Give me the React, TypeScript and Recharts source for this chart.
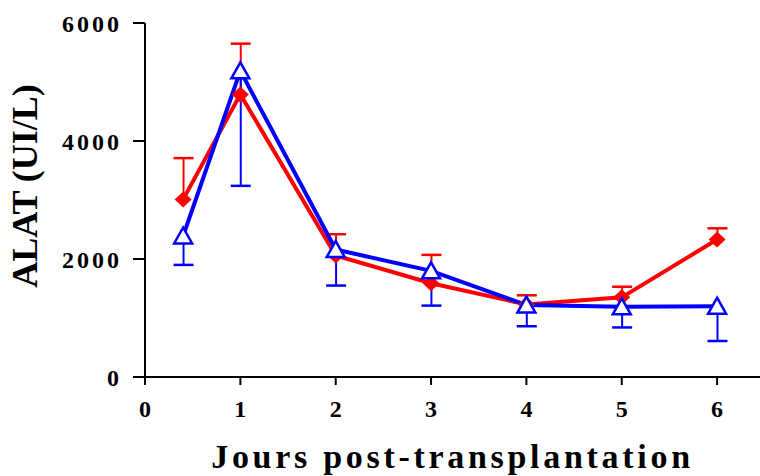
import React from 'react';
import { ComposedChart, Line, Bar, XAxis, YAxis, Label } from 'recharts';

const days = [0.4, 1, 2, 3, 4, 5, 6];
const redMean = [3010, 4790, 2060, 1590, 1230, 1350, 2330];
const redUpper = [3710, 5650, 2420, 2070, 1385, 1530, 2520];
const blueMean = [2390, 5190, 2160, 1800, 1220, 1190, 1200];
const blueLower = [1900, 3240, 1550, 1210, 860, 840, 610];
const xTicks = [0, 1, 2, 3, 4, 5, 6];
const yTicks = [0, 2000, 4000, 6000];

const RED = '#FF0000';
const BLUE = '#0000FF';
const FONT = '"Liberation Serif", "Times New Roman", serif';

const chartData = days.map((day, i) => ({
  day,
  red: redMean[i],
  blue: blueMean[i],
  redErr: [redMean[i], redUpper[i]],
  blueErr: [blueLower[i], blueMean[i]],
}));

const Diamond = ({ cx, cy }: any) => {
  if (cx == null || cy == null) return null;
  return (
    <polygon
      points={`${cx},${cy - 8} ${cx + 8.5},${cy} ${cx},${cy + 8} ${cx - 8.5},${cy}`}
      fill={RED}
    />
  );
};

const Triangle = ({ cx, cy }: any) => {
  if (cx == null || cy == null) return null;
  return (
    <polygon
      points={`${cx},${cy - 8.5} ${cx + 9},${cy + 7.5} ${cx - 9},${cy + 7.5}`}
      fill="#fff"
      stroke={BLUE}
      strokeWidth={2.5}
    />
  );
};

// error bar drawn from the ranged bar rectangle: cap on top (red) or bottom (blue)
const makeErrorShape = (color: string, capAtTop: boolean) => (props: any) => {
  const { x, y, width, height } = props;
  if (x == null || y == null) return <g />;
  const top = Math.min(y, y + height);
  const bottom = Math.max(y, y + height);
  const cx = x + width / 2;
  const capY = capAtTop ? top : bottom;
  return (
    <g>
      <line x1={cx} y1={top} x2={cx} y2={bottom} stroke={color} strokeWidth={2} />
      <line x1={cx - 10} y1={capY} x2={cx + 10} y2={capY} stroke={color} strokeWidth={2.5} />
    </g>
  );
};

const XTitle = ({ viewBox }: any) => (
  <text
    x={viewBox.x + viewBox.width / 2}
    y={viewBox.y + viewBox.height - 8}
    textAnchor="middle"
    fontFamily={FONT}
    fontWeight="bold"
    fontSize={34}
    letterSpacing={3.7}
    fill="#000"
  >
    Jours post-transplantation
  </text>
);

const YTitle = ({ viewBox }: any) => {
  const x = viewBox.x + 37;
  const y = viewBox.y + viewBox.height / 2 - 14;
  return (
    <text
      x={x}
      y={y}
      transform={`rotate(-90, ${x}, ${y})`}
      textAnchor="middle"
      fontFamily={FONT}
      fontWeight="bold"
      fontSize={36}
      fill="#000"
    >
      ALAT (UI/L)
    </text>
  );
};

const tickStyle = { fontFamily: FONT, fontWeight: 'bold', fontSize: 24, fill: '#000' };

export default function App() {
  return (
    <div style={{ position: 'absolute', left: 0, top: 0, background: '#fff' }}>
      <ComposedChart
        width={760}
        height={476}
        data={chartData}
        margin={{ top: 23, right: 0, bottom: 0, left: 0 }}
        barGap={-20}
      >
        <XAxis
          dataKey="day"
          type="number"
          domain={[0, 6.45]}
          ticks={xTicks}
          allowDataOverflow
          height={99}
          tickSize={8}
          tickMargin={15}
          stroke="#000"
          strokeWidth={2}
          tick={tickStyle}
        >
          <Label content={<XTitle />} />
        </XAxis>
        <YAxis
          type="number"
          domain={[0, 6000]}
          ticks={yTicks}
          width={145}
          tickSize={12}
          tickMargin={11}
          stroke="#000"
          strokeWidth={2}
          tick={{ ...tickStyle, letterSpacing: 3 }}
        >
          <Label content={<YTitle />} />
        </YAxis>
        <Bar dataKey="redErr" barSize={20} shape={makeErrorShape(RED, true)} isAnimationActive={false} />
        <Line
          dataKey="red"
          stroke={RED}
          strokeWidth={4}
          dot={(p: any) => <Diamond key={`r${p.index}`} {...p} />}
          activeDot={false}
          isAnimationActive={false}
        />
        <Bar dataKey="blueErr" barSize={20} shape={makeErrorShape(BLUE, false)} isAnimationActive={false} />
        <Line
          dataKey="blue"
          stroke={BLUE}
          strokeWidth={4}
          dot={(p: any) => <Triangle key={`b${p.index}`} {...p} />}
          activeDot={false}
          isAnimationActive={false}
        />
      </ComposedChart>
    </div>
  );
}
